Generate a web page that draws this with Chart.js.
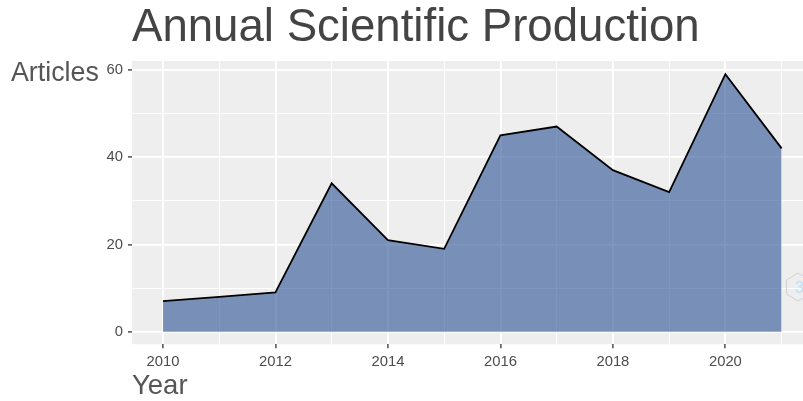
<!DOCTYPE html>
<html lang="en">
<head>
    <meta charset="UTF-8">
    <title>Annual Scientific Production</title>
    <style>
        html, body { margin: 0; padding: 0; background: #fff; }
        #wrap { position: relative; width: 803px; height: 401px; overflow: hidden; }
    </style>
</head>
<body>
<div id="wrap"><canvas id="myChart" width="803" height="401"></canvas></div>

<script src="https://cdn.jsdelivr.net/npm/chart.js@4/dist/chart.umd.min.js"></script>
<script>
    var years = [2010, 2011, 2012, 2013, 2014, 2015, 2016, 2017, 2018, 2019, 2020, 2021];
    var articles = [7, 8, 9, 34, 21, 19, 45, 47, 37, 32, 59, 42];
    var xTicks = [2010, 2011, 2012, 2013, 2014, 2015, 2016, 2017, 2018, 2019, 2020, 2021];
    var yTicks = [0, 10, 20, 30, 40, 50, 60];

    var textFont = '"Liberation Sans", Arial, sans-serif';

    // horizontal y axis label and the little logo, neither is something the axes can draw
    var extras = {
        id: 'extras',
        afterDraw: function (chart) {
            var ctx = chart.ctx;
            ctx.save();
            ctx.font = '26.8px ' + textFont;
            ctx.fillStyle = '#555555';
            ctx.textAlign = 'left';
            ctx.textBaseline = 'alphabetic';
            ctx.fillText('Articles', 11, 81);

            ctx.strokeStyle = '#d2d2d2';
            ctx.lineWidth = 1;
            ctx.beginPath();
            var cx = 798, cy = 287, r = 14;
            for (var i = 0; i < 6; i++) {
                var a = Math.PI / 6 + i * Math.PI / 3;
                ctx.lineTo(cx + r * Math.cos(a) * 0.95, cy + r * Math.sin(a));
            }
            ctx.closePath();
            ctx.stroke();
            ctx.fillStyle = '#bcdff2';
            ctx.font = '16px ' + textFont;
            ctx.fillText('3', 795, 293);
            ctx.restore();
        }
    };

    new Chart(document.getElementById('myChart').getContext('2d'), {
        type: 'line',
        data: {
            labels: years,
            datasets: [{
                data: years.map(function (y, i) { return { x: y, y: articles[i] }; }),
                borderColor: '#000000',
                borderWidth: 1.8,
                backgroundColor: 'rgba(41, 80, 146, 0.6)',
                fill: 'origin',
                tension: 0,
                pointRadius: 0
            }]
        },
        options: {
            responsive: false,
            animation: false,
            layout: { padding: { left: 0, right: 0, top: 0, bottom: 0 } },
            plugins: {
                legend: { display: false },
                tooltip: { enabled: false },
                title: {
                    display: true,
                    text: 'Annual Scientific Production',
                    align: 'start',
                    fullSize: false,
                    color: '#444444',
                    font: { family: textFont, size: 45.6, weight: 'normal' },
                    padding: { top: 1, bottom: 5.3 }
                }
            },
            scales: {
                x: {
                    type: 'linear',
                    min: 2009.45,
                    max: 2021.38,
                    afterBuildTicks: function (axis) {
                        axis.ticks = xTicks.map(function (v) { return { value: v }; });
                    },
                    border: { display: false },
                    grid: {
                        color: '#ffffff',
                        lineWidth: function (c) { return c.tick && c.tick.value % 2 === 0 ? 1.8 : 0.9; },
                        tickColor: function (c) { return c.tick && c.tick.value % 2 === 0 ? '#333333' : 'rgba(0,0,0,0)'; },
                        tickLength: 4,
                        tickWidth: 1.3
                    },
                    ticks: {
                        autoSkip: false,
                        maxRotation: 0,
                        color: '#4d4d4d',
                        font: { family: textFont, size: 14.8 },
                        padding: 5,
                        callback: function (v) { return v % 2 === 0 ? String(v) : ''; }
                    },
                    title: {
                        display: true,
                        text: 'Year',
                        align: 'start',
                        color: '#555555',
                        font: { family: textFont, size: 27.5 },
                        padding: { top: -6, bottom: -2 }
                    }
                },
                y: {
                    type: 'linear',
                    min: -2.85,
                    max: 62,
                    afterBuildTicks: function (axis) {
                        axis.ticks = yTicks.map(function (v) { return { value: v }; });
                    },
                    afterFit: function (axis) { axis.width = 132; },
                    border: { display: false },
                    grid: {
                        color: '#ffffff',
                        lineWidth: function (c) { return c.tick && c.tick.value % 20 === 0 ? 1.8 : 0.9; },
                        tickColor: function (c) { return c.tick && c.tick.value % 20 === 0 ? '#333333' : 'rgba(0,0,0,0)'; },
                        tickLength: 4,
                        tickWidth: 1.3
                    },
                    ticks: {
                        autoSkip: false,
                        color: '#4d4d4d',
                        font: { family: textFont, size: 14.8 },
                        padding: 5,
                        callback: function (v) { return v % 20 === 0 ? String(v) : ''; }
                    }
                }
            }
        },
        plugins: [{
            id: 'panelBg',
            beforeDraw: function (chart) {
                var a = chart.chartArea;
                chart.ctx.fillStyle = '#eeeeee';
                chart.ctx.fillRect(a.left, a.top, a.right - a.left, a.bottom - a.top);
            }
        }, extras]
    });
</script>
</body>
</html>
